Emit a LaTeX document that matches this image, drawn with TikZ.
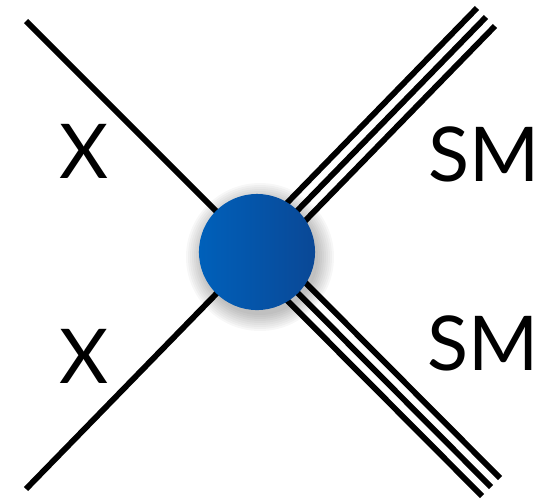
\documentclass[tikz,border=0pt]{standalone}
\usepackage{fontspec}
\setmainfont{Lato}
\usepackage{tikz}
\usetikzlibrary{calc}
\definecolor{blobl}{RGB}{0,96,186}
\definecolor{blobr}{RGB}{10,72,150}
\tikzset{
  leg/.style={line width=1.65pt},
  lbl/.style={font=\fontsize{21.5}{26}\selectfont}
}

\begin{document}
\begin{tikzpicture}[x=0.01cm,y=-0.01cm]
  \useasboundingbox (0,0) rectangle (554,499);
  \coordinate (blobc) at (257,252);
  \coordinate (xa) at (26,21);
  \coordinate (xb) at (26,489);
  \coordinate (sma) at (486,17);
  \coordinate (smb) at (491,487);
  % incoming
  \draw[leg] (xa) -- (blobc);
  \draw[leg] (xb) -- (blobc);
  % outgoing, triple lines
  \foreach \s in {-9,0,9}{
    \draw[leg] ($(blobc)+(\s,\s)$) -- ($(sma)+(\s,\s)$);
    \draw[leg] ($(blobc)+(-\s,\s)$) -- ($(smb)+(-\s,\s)$);
  }
  % shadow
  \foreach \r in {74,72,...,58}
    \fill[black,opacity=0.03] ($(blobc)+(3,5)$) circle (\r*0.01cm);
  \node[circle,minimum size=1.16cm,inner sep=0pt,
        left color=blobl,right color=blobr] (blob) at (blobc) {};
  \node[lbl] (x1) at (84,151) {X};
  \node[lbl] (x2) at (84,356) {X};
  \node[lbl] (sm1) at (484,154) {SM};
  \node[lbl] (sm2) at (483,343) {SM};
\end{tikzpicture}
\end{document}
